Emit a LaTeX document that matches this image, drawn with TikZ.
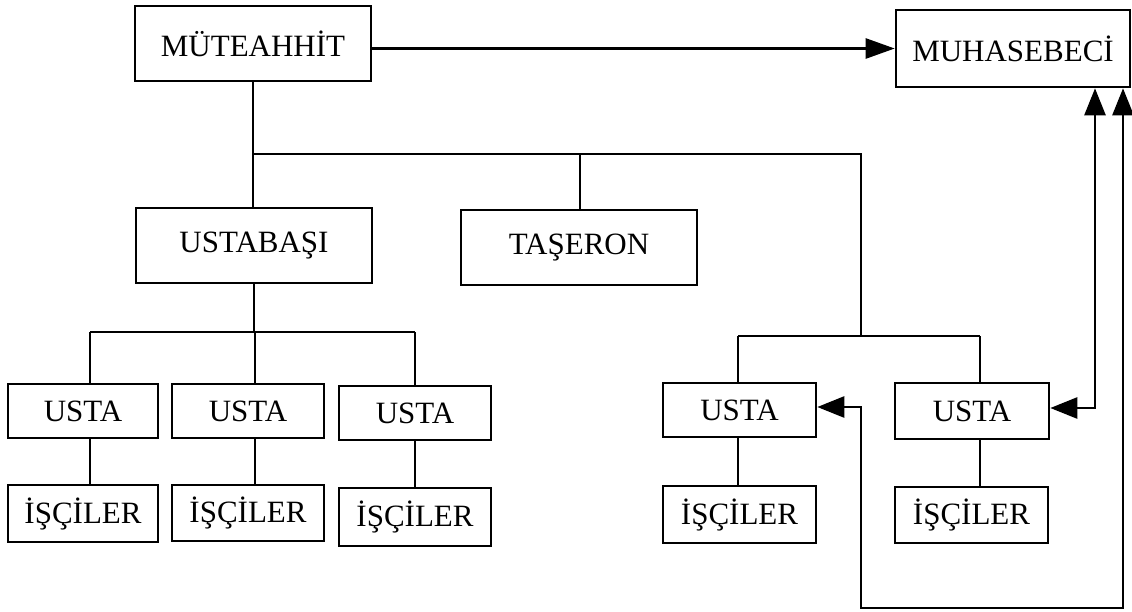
\documentclass[tikz,border=0pt]{standalone}
\usepackage{fontspec}
\setmainfont{Liberation Serif}
\usetikzlibrary{arrows.meta}
\begin{document}
\begin{tikzpicture}[x=1pt,y=-1pt,
  box/.style={draw,line width=2.6pt,inner sep=0pt,font=\fontsize{31}{37}\selectfont},
  link/.style={line width=2.6pt},
  tip/.style={-{Triangle[length=29pt,width=20pt]}},
  twotip/.style={{Triangle[length=27pt,width=21pt]}-{Triangle[length=27pt,width=21pt]}}]
\useasboundingbox (0,0) rectangle (1132,611);

% boxes
\node[box,minimum width=236pt,minimum height=75pt] (mut) at (253,43.5) {MÜTEAHHİT};
\node[box,minimum width=234pt,minimum height=77pt] (muh) at (1013,48.5) {MUHASEBECİ};
\node[box,minimum width=236pt,minimum height=75pt] (ub) at (254,245.5) {USTABAŞI};
\node[box,minimum width=236pt,minimum height=75pt] (tas) at (579,247.5) {TAŞERON};

\node[box,minimum width=150pt,minimum height=54pt] (u1) at (83,411) {USTA};
\node[box,minimum width=152pt,minimum height=54pt] (u2) at (248,411) {USTA};
\node[box,minimum width=152pt,minimum height=54pt] (u3) at (415,413) {USTA};
\node[box,minimum width=150pt,minimum height=57pt] (i1) at (83,513.5) {İŞÇİLER};
\node[box,minimum width=152pt,minimum height=56pt] (i2) at (248,513) {İŞÇİLER};
\node[box,minimum width=152pt,minimum height=58pt] (i3) at (415,517) {İŞÇİLER};

\node[box,minimum width=153pt,minimum height=54pt] (u4) at (739.5,410) {USTA};
\node[box,minimum width=154pt,minimum height=56pt] (u5) at (972,411) {USTA};
\node[box,minimum width=153pt,minimum height=57pt] (i4) at (739.5,514.5) {İŞÇİLER};
\node[box,minimum width=153pt,minimum height=56pt] (i5) at (971.5,515) {İŞÇİLER};

% junction points of the tree lines
\coordinate (b0) at (254,154);
\coordinate (b2) at (861,336);
\coordinate (l1) at (90,332);
\coordinate (l2) at (255,332);
\coordinate (l3) at (415,332);
\coordinate (r1) at (738,336);
\coordinate (r2) at (980,336);
\coordinate (tj) at (580,154);

% main tree
\draw[link] (mut.south) -- (mut.south |- ub.north);
\draw[link] (mut.south |- b0) -| (b2);
\draw[link] (tj) -- (tj |- tas.north);

% ustabasi branch
\draw[link] (ub.south) -- (ub.south |- l2);
\draw[link] (l1) -- (l3);
\draw[link] (l1) -- (l1 |- u1.north);
\draw[link] (l2) -- (l2 |- u2.north);
\draw[link] (l3) -- (l3 |- u3.north);
\draw[link] (u1.south -| l1) -- (i1.north -| l1);
\draw[link] (u2.south -| l2) -- (i2.north -| l2);
\draw[link] (u3.south -| l3) -- (i3.north -| l3);

% right branch
\draw[link] (r1) -- (r2);
\draw[link] (r1) -- (r1 |- u4.north);
\draw[link] (r2) -- (r2 |- u5.north);
\draw[link] (u4.south -| r1) -- (i4.north -| r1);
\draw[link] (u5.south -| r2) -- (i5.north -| r2);

% accountant links
\draw[link,tip] ([yshift=-5pt]mut.east) -- ([yshift=-5pt]mut.east -| muh.west);
\coordinate (a1) at (1095,408);
\draw[link,twotip] (a1 -| u5.east) -- (a1) -- (a1 |- muh.south);
\coordinate (c1) at (861,407);
\coordinate (c2) at (1123,608);
\draw[link,twotip] (c1 -| u4.east) -- (c1) |- (c2) -- (c2 |- muh.south);
\end{tikzpicture}
\end{document}
